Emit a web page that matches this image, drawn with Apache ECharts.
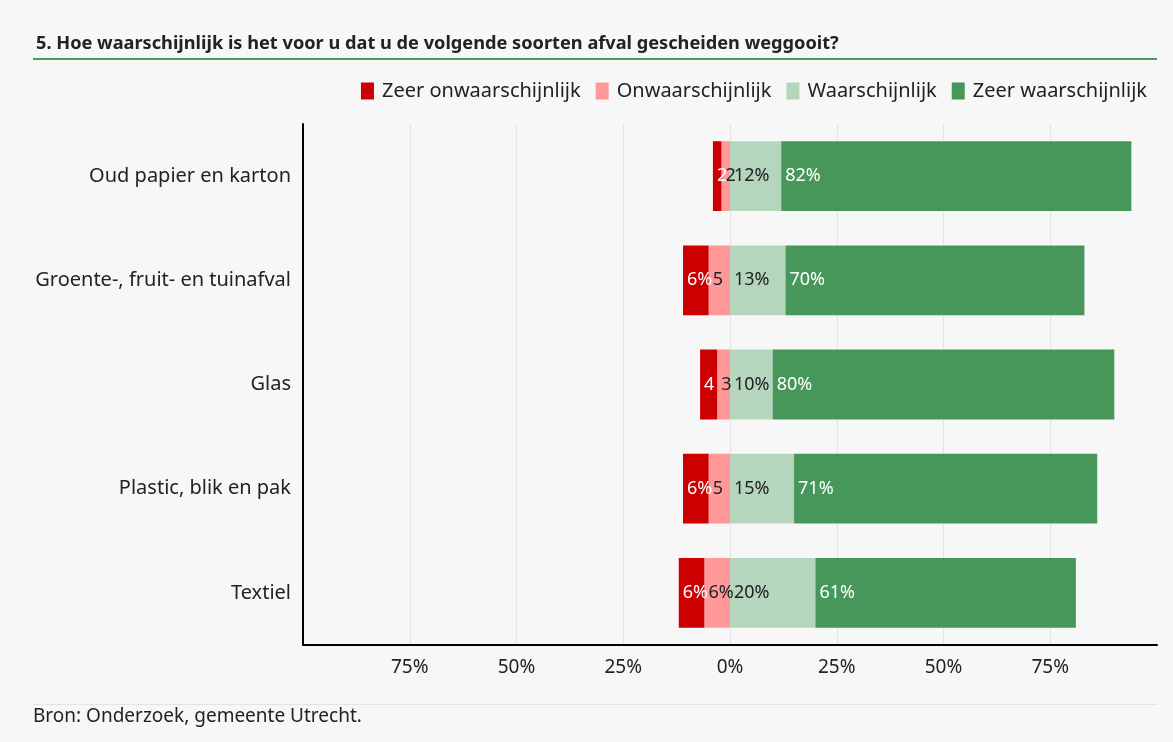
<!DOCTYPE html>
<html>
<head>
<meta charset="utf-8">
<script src="https://cdn.jsdelivr.net/npm/echarts@6/dist/echarts.min.js"></script>
<style>
  html, body { margin: 0; padding: 0; background: #f7f7f7; }
  #container { width: 1173px; height: 742px; }
</style>
</head>
<body>
<div id="container"></div>
<script>
var dom = document.getElementById('container');
var myChart = echarts.init(dom, null, { renderer: 'canvas' });

// data
var categories = ['Oud papier en karton', 'Groente-, fruit- en tuinafval', 'Glas', 'Plastic, blik en pak', 'Textiel'];
var zeerOnwaarschijnlijk = [2, 6, 4, 6, 6];
var onwaarschijnlijk = [2, 5, 3, 5, 6];
var waarschijnlijk = [12, 13, 10, 15, 20];
var zeerWaarschijnlijk = [82, 70, 80, 71, 61];

var FONT = 'Noto Sans';

function mkSeries(name, values, sign, color, textColor) {
    return {
        name: name,
        type: 'bar',
        stack: 'total',
        barWidth: '67%',
        itemStyle: { color: color },
        label: {
            show: true,
            position: 'insideLeft',
            distance: 4,
            color: textColor,
            fontFamily: FONT,
            fontSize: 18,
            overflow: 'truncate',
            ellipsis: '',
            formatter: function (p) { return Math.abs(p.value) + '%'; }
        },
        data: values.map(function (v) { return sign * v; })
    };
}

var option = {
    backgroundColor: '#f7f7f7',
    textStyle: { fontFamily: FONT },
    title: {
        text: '5. Hoe waarschijnlijk is het voor u dat u de volgende soorten afval gescheiden weggooit?',
        left: 31, top: 30,
        textStyle: { fontFamily: FONT, fontSize: 18.2, fontWeight: 'bold', color: '#222' }
    },
    graphic: [
        { type: 'rect', shape: { x: 33, y: 58, width: 1124, height: 2 }, style: { fill: '#4a9a5a' } },
        { type: 'rect', shape: { x: 33, y: 704, width: 1124, height: 1 }, style: { fill: '#e4e4e4' } },
        { type: 'text', left: 33, top: 707, style: { text: 'Bron: Onderzoek, gemeente Utrecht.', fill: '#222', font: '19px "Noto Sans"' } }
    ],
    legend: {
        right: 21, top: 76,
        icon: 'rect',
        itemWidth: 13, itemHeight: 17, itemGap: 15,
        textStyle: { fontFamily: FONT, fontSize: 20, color: '#222', padding: [0, 0, 0, 3] },
        data: ['Zeer onwaarschijnlijk', 'Onwaarschijnlijk', 'Waarschijnlijk', 'Zeer waarschijnlijk']
    },
    grid: { left: 303, right: 16, top: 124, bottom: 97 },
    xAxis: {
        type: 'value',
        min: -100, max: 100, interval: 25,
        axisLine: { show: true, lineStyle: { color: '#000', width: 2 } },
        axisTick: { show: false },
        splitLine: { show: true, showMinLine: false, showMaxLine: false, lineStyle: { color: '#e3e3e3' } },
        axisLabel: {
            margin: 13,
            fontFamily: FONT, fontSize: 19, color: '#222',
            formatter: function (v) { return Math.abs(v) === 100 ? '' : Math.abs(v) + '%'; }
        }
    },
    yAxis: {
        type: 'category',
        inverse: true,
        data: categories,
        axisLine: { show: true, onZero: false, lineStyle: { color: '#000', width: 2 } },
        axisTick: { show: false },
        axisLabel: { margin: 12, fontFamily: FONT, fontSize: 20, color: '#222' }
    },
    series: [
        mkSeries('Onwaarschijnlijk', onwaarschijnlijk, -1, '#ff9999', '#222'),
        mkSeries('Zeer onwaarschijnlijk', zeerOnwaarschijnlijk, -1, '#cc0000', '#fff'),
        mkSeries('Waarschijnlijk', waarschijnlijk, 1, '#b5d5bd', '#222'),
        mkSeries('Zeer waarschijnlijk', zeerWaarschijnlijk, 1, '#48975a', '#fff')
    ]
};

myChart.setOption(option);

// clip labels to about their segment width
var zeroPx = myChart.convertToPixel({ xAxisIndex: 0 }, 0);
var seriesUpdate = option.series.map(function (s) {
    return {
        data: s.data.map(function (v) {
            var w = Math.abs(myChart.convertToPixel({ xAxisIndex: 0 }, Math.abs(v)) - zeroPx) + 3;
            return { value: v, label: { width: Math.max(w, 14) } };
        })
    };
});
myChart.setOption({ series: seriesUpdate });

window.addEventListener('resize', myChart.resize);
</script>
</body>
</html>
